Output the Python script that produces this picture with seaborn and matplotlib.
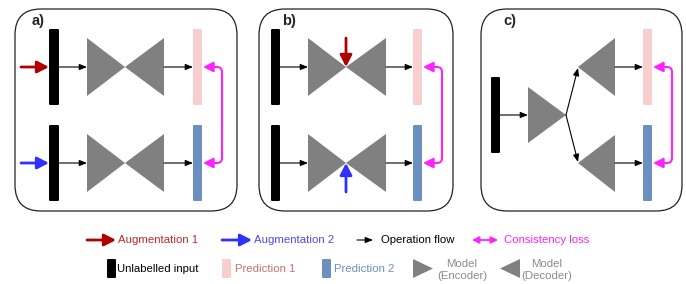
import matplotlib
matplotlib.use("Agg")
import matplotlib.pyplot as plt
import seaborn as sns
from matplotlib.patches import FancyBboxPatch, Polygon, FancyArrowPatch
from matplotlib.path import Path

# ---- content ----
panel_labels = ["a)", "b)", "c)"]
aug_labels = ["Augmentation 1", "Augmentation 2"]
flow_labels = ["Operation flow", "Consistency loss"]
block_labels = ["Unlabelled input", "Prediction 1", "Prediction 2"]
model_labels = ["Model\n(Encoder)", "Model\n(Decoder)"]

# ---- styles ----
C_AUG1 = "#b00000"
C_AUG1_TXT = "#c0282a"
C_AUG2 = "#3030ff"
C_AUG2_TXT = "#4a4af5"
C_PRED1 = "#f7cfcf"
C_PRED1_TXT = "#c87070"
C_PRED2 = "#6b8fc1"
C_LOSS = "#ff22ff"
C_MODEL = "#808080"
C_MODEL_TXT = "#8a8a8a"

sns.set_theme(style="white")
plt.rcParams["font.family"] = ["Liberation Sans", "DejaVu Sans"]

fig = plt.figure(figsize=(6.86, 2.84), dpi=100)
ax = fig.add_axes([0, 0, 1, 1])
ax.set_xlim(0, 686)
ax.set_ylim(284, 0)
ax.axis("off")


def box(x0, y0, x1, y1):
    ax.add_patch(FancyBboxPatch((x0, y0), x1 - x0, y1 - y0,
                                boxstyle="round,pad=0,rounding_size=26",
                                fc="white", ec="#222222", lw=0.9, zorder=1))


def bar(x0, y0, x1, y1, color):
    ax.add_patch(FancyBboxPatch((x0, y0), x1 - x0, y1 - y0,
                                boxstyle="round,pad=0,rounding_size=1.2",
                                fc=color, ec="none", zorder=3))


def tri(pts):
    ax.add_patch(Polygon(pts, closed=True, fc=C_MODEL, ec="none", zorder=3))


def arrow(p0, p1, color="black", lw=0.8, hl=4.5, hw=1.8, z=4):
    ax.add_patch(FancyArrowPatch(p0, p1,
                                 arrowstyle=f"-|>,head_length={hl},head_width={hw}",
                                 color=color, lw=lw, mutation_scale=1,
                                 shrinkA=0, shrinkB=0, zorder=z))


def aug(p0, p1, color):
    arrow(p0, p1, color=color, lw=2.0, hl=7, hw=3.6, z=5)


def loss(x0, xr, y0, y1, r=5):
    verts = [(x0, y0), (xr - r, y0), (xr, y0), (xr, y0 + r),
             (xr, y1 - r), (xr, y1), (xr - r, y1), (x0, y1)]
    codes = [Path.MOVETO, Path.LINETO, Path.CURVE3, Path.CURVE3,
             Path.LINETO, Path.CURVE3, Path.CURVE3, Path.LINETO]
    ax.add_patch(FancyArrowPatch(path=Path(verts, codes),
                                 arrowstyle="<|-|>,head_length=6,head_width=3",
                                 color=C_LOSS, lw=1.5, mutation_scale=1, zorder=4))


YT, YB = 67, 163  # row centres


def hourglass(xl, xm, xr, yc, h=29):
    tri([(xl, yc - h), (xl, yc + h), (xm, yc)])
    tri([(xr, yc - h), (xr, yc + h), (xm, yc)])


# ---- panel a ----
box(15, 9, 237, 211)
ax.text(32, 21, panel_labels[0], fontsize=10.5, fontweight="bold", va="center", ha="left")
for yc, (y0, y1) in zip([YT, YB], [(29, 105), (125, 201)]):
    bar(49, y0, 59, y1, "black")
    arrow((59, yc), (87, yc))
    hourglass(87, 125, 164, yc)
    arrow((164, yc), (193, yc))
bar(193, 29, 202, 105, C_PRED1)
bar(193, 125, 202, 201, C_PRED2)
aug((21, YT), (49, YT), C_AUG1)
aug((21, YB), (49, YB), C_AUG2)
loss(203, 222, YT, YB)

# ---- panel b ----
box(259, 9, 453, 211)
ax.text(282, 21, panel_labels[1], fontsize=10.5, fontweight="bold", va="center", ha="left")
for yc, (y0, y1) in zip([YT, YB], [(29, 105), (125, 201)]):
    bar(271, y0, 280, y1, "black")
    arrow((280, yc), (308, yc))
    hourglass(308, 346, 386, yc)
    arrow((386, yc), (413, yc))
bar(413, 29, 422, 105, C_PRED1)
bar(413, 125, 422, 201, C_PRED2)
aug((346, 38), (346, YT), C_AUG1)
aug((346, 192), (346, YB), C_AUG2)
loss(423, 442, YT, YB)

# ---- panel c ----
box(481, 9, 682, 211)
ax.text(503, 21, panel_labels[2], fontsize=10.5, fontweight="bold", va="center", ha="left")
bar(491, 77, 500, 153, "black")
arrow((500, 115), (528, 115))
tri([(528, 87), (528, 143), (566, 115)])
tri([(615, 38), (615, 96), (578, YT)])
tri([(615, 135), (615, 192), (578, YB)])
arrow((566, 115), (578, YT + 1))
arrow((566, 115), (578, YB - 1))
arrow((615, YT), (643, YT))
arrow((615, YB), (643, YB))
bar(643, 29, 652, 105, C_PRED1)
bar(643, 125, 652, 201, C_PRED2)
loss(653, 672, YT, YB)

# ---- legend ----
FS = 8.2
L1 = 240
aug((87, L1), (116, L1), C_AUG1)
ax.text(118, L1, aug_labels[0], color=C_AUG1_TXT, fontsize=FS, va="center")
aug((222, L1), (252, L1), C_AUG2)
ax.text(254, L1, aug_labels[1], color=C_AUG2_TXT, fontsize=FS, va="center")
arrow((357, L1), (373, L1))
ax.text(381, L1, flow_labels[0], color="black", fontsize=FS, va="center")
ax.add_patch(FancyArrowPatch((472, L1), (498, L1),
                             arrowstyle="<|-|>,head_length=4,head_width=2",
                             color=C_LOSS, lw=1.3, mutation_scale=1,
                             shrinkA=0, shrinkB=0, zorder=4))
ax.text(504, L1, flow_labels[1], color=C_LOSS, fontsize=FS, va="center")

L2 = 269
bar(107, 259, 116, 278, "black")
ax.text(117, L2, block_labels[0], color="black", fontsize=FS, va="center")
bar(222, 259, 231, 278, C_PRED1)
ax.text(235, L2, block_labels[1], color=C_PRED1_TXT, fontsize=FS, va="center")
bar(322, 259, 331, 278, C_PRED2)
ax.text(334, L2, block_labels[2], color=C_PRED2, fontsize=FS, va="center")
tri([(413, 259), (413, 278), (433, 268.5)])
ax.text(462, L2 + 1, model_labels[0], color=C_MODEL_TXT, fontsize=FS, va="center",
        ha="center", linespacing=1.25)
tri([(520, 259), (520, 278), (500, 268.5)])
ax.text(547, L2 + 1, model_labels[1], color=C_MODEL_TXT, fontsize=FS, va="center",
        ha="center", linespacing=1.25)

fig.savefig("out.png", dpi=100)
